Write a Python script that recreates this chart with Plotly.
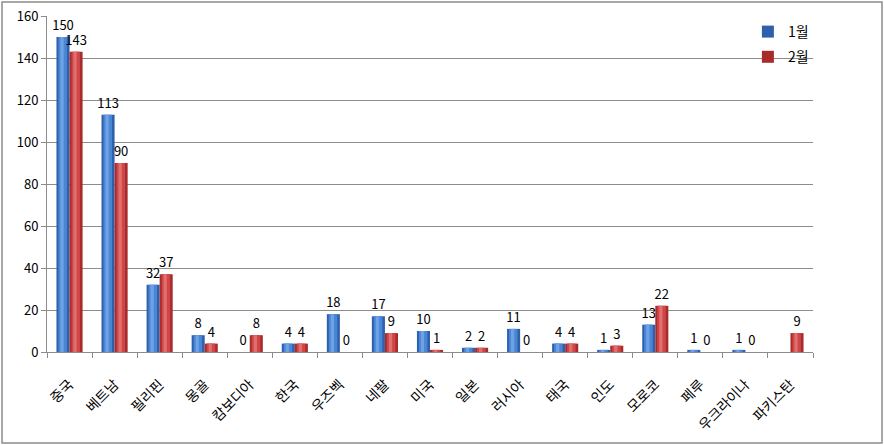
import plotly.graph_objects as go

categories = ["중국", "베트남", "필리핀", "몽골", "캄보디아", "한국", "우즈벡", "네팔", "미국",
              "일본", "러시아", "태국", "인도", "모로코", "페루", "우크라이나", "파키스탄"]
jan = [150, 113, 32, 8, 0, 4, 18, 17, 10, 2, 11, 4, 1, 13, 1, 1, None]
feb = [143, 90, 37, 4, 8, 4, 0, 9, 1, 2, 0, 4, 3, 22, 0, 0, 9]

FONT = "Noto Sans CJK KR, Malgun Gothic, sans-serif"
BW = 0.29  # bar width in category units

def labels(vals):
    return ["" if v is None else str(v) for v in vals]

fig = go.Figure()
series = [
    ("1월", jan, -BW, "#2f60ad", "#4a86d4", "#6ea2e4"),
    ("2월", feb, 0.0, "#a82c2c", "#d04545", "#e07070"),
]
for name, vals, off, edge, mid, hi in series:
    fig.add_trace(go.Bar(
        name=name, x=categories, y=vals, text=labels(vals), textposition="outside",
        constraintext="none", offset=off, width=BW, legendgroup=name,
        marker=dict(color=edge, line=dict(width=0)),
        textfont=dict(size=13, color="#000000", family=FONT), cliponaxis=False,
    ))
    fig.add_trace(go.Bar(
        x=categories, y=vals, offset=off + BW * 0.15, width=BW * 0.65,
        marker=dict(color=mid, line=dict(width=0)), showlegend=False,
        hoverinfo="skip", legendgroup=name,
    ))
    fig.add_trace(go.Bar(
        x=categories, y=vals, offset=off + BW * 0.3, width=BW * 0.25,
        marker=dict(color=hi, line=dict(width=0)), showlegend=False,
        hoverinfo="skip", legendgroup=name,
    ))

fig.update_layout(
    width=884, height=445,
    margin=dict(l=47, r=71, t=16, b=93, autoexpand=False),
    paper_bgcolor="white", plot_bgcolor="white",
    barmode="overlay",
    font=dict(family=FONT, size=12, color="#000000"),
    showlegend=True,
    legend=dict(x=0.915, y=1.0, xanchor="left", yanchor="top",
                bgcolor="rgba(0,0,0,0)", font=dict(size=14, family=FONT),
                itemwidth=30, tracegroupgap=4),
    shapes=[dict(type="rect", xref="paper", yref="paper",
                 x0=-45/766, x1=835/766, y0=-91/336, y1=1+14/336,
                 line=dict(color="#8c8c8c", width=1.5), fillcolor="rgba(0,0,0,0)")],
)
fig.update_xaxes(
    type="category", tickangle=-45, tickson="boundaries",
    ticks="outside", ticklen=5, tickcolor="#8c8c8c", ticklabelstandoff=18,
    showline=True, linecolor="#8c8c8c", linewidth=1, automargin=False,
    tickfont=dict(size=14, family=FONT), showgrid=False,
)
fig.update_yaxes(
    range=[0, 160], dtick=20, ticks="outside", ticklen=5, tickcolor="#8c8c8c",
    showline=True, linecolor="#8c8c8c", linewidth=1, automargin=False,
    showgrid=True, gridcolor="#8c8c8c", gridwidth=1, zeroline=False,
    tickfont=dict(size=13, family=FONT),
)

fig.write_html("out.html")
